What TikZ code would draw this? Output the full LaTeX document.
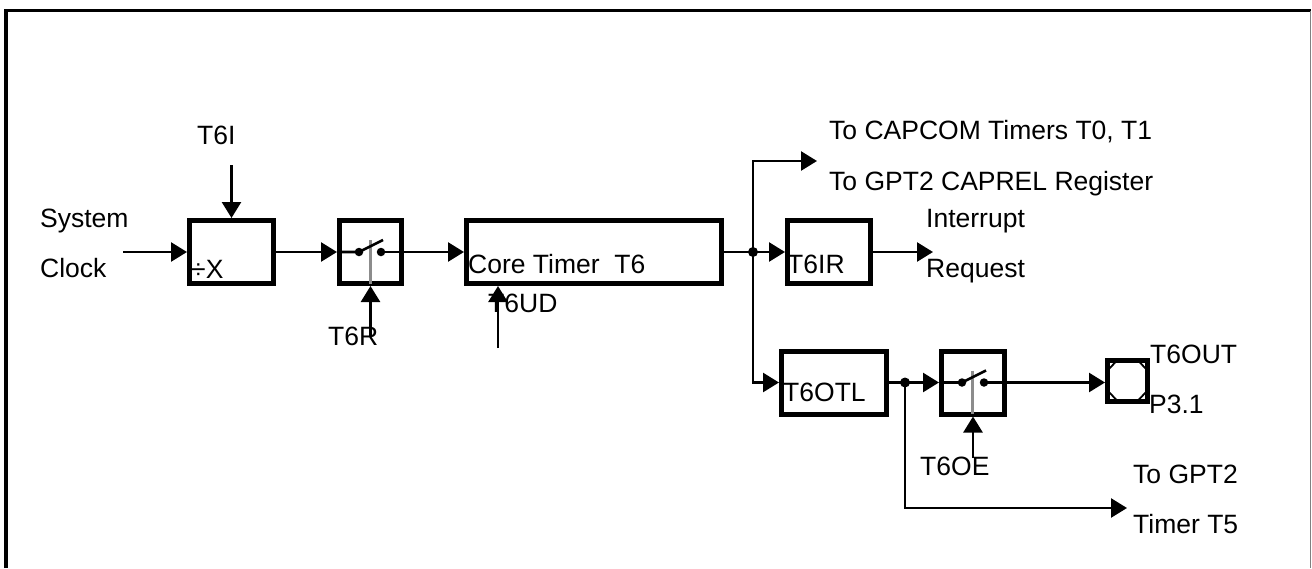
\documentclass[tikz,border=0pt]{standalone}
\usepackage{fontspec}
\setmainfont{Liberation Sans}
\usetikzlibrary{arrows.meta,calc}
\begin{document}
\begin{tikzpicture}[x=1pt,y=-1pt,
  box/.style={draw,line width=5pt,minimum height=63pt,inner sep=0pt},
  lbl/.style={anchor=base west,inner sep=0pt,font=\fontsize{26.5}{32}\selectfont},
  wire/.style={line width=2.6pt},
  arr/.style={line width=2.6pt,-{Triangle[length=16pt,width=19pt]}},
  dotn/.style={circle,fill,inner sep=0pt,minimum size=10pt},
  sdot/.style={circle,fill,inner sep=0pt,minimum size=8.5pt},
  lever/.style={line width=3pt,black!45}]
\useasboundingbox (0,0) rectangle (1312,568);
\draw[line width=3.5pt] (6,568) -- (6,10.5) -- (1311,10.5);
\draw[line width=1pt,black!50] (1310.5,10.5) -- (1310.5,568);

% blocks
\node[box,minimum width=84pt] (div) at (231.5,252) {};
\node[box,minimum width=62pt] (sw1) at (370.5,252) {};
\node[box,minimum width=255pt] (core) at (594,252) {};
\node[box,minimum width=83pt] (ir) at (829,252) {};
\node[box,minimum width=105pt] (otl) at (834,382.5) {};
\node[box,minimum width=63pt] (sw2) at (973,382.5) {};
\node[draw,line width=5pt,minimum width=40pt,minimum height=41pt,inner sep=0pt] (pin) at (1127.5,380.5) {};
\draw[line width=1.8pt] ($(pin.center)+(-20,-10)$) -- ($(pin.center)+(-10,-20.5)$) -- ($(pin.center)+(10,-20.5)$) -- ($(pin.center)+(20,-10)$) -- ($(pin.center)+(20,10)$) -- ($(pin.center)+(10,20.5)$) -- ($(pin.center)+(-10,20.5)$) -- ($(pin.center)+(-20,10)$) -- cycle;

% free ends
\coordinate (clk) at (123,252);
\coordinate (t6i) at (231.5,165);
\coordinate (t6r) at (370.5,337);
\coordinate (t6ud) at (498,348);
\coordinate (j1) at (753,252);
\coordinate (cap) at (817,161);
\coordinate (irq) at (933,252);
\coordinate (j2) at (905,382.5);
\coordinate (t5) at (1127,508);
\coordinate (t6oe) at (973,458);

% switch 1 internals
\coordinate (s1a) at ($(sw1.center)+(-11.5,0)$);
\coordinate (s1b) at ($(sw1.center)+(10.5,0)$);
\coordinate (s1c) at ($(sw1.center)+(12.5,-12)$);
\draw[lever] ($(sw1.center)+(0,-12)$) -- ($(sw1.south)+(0,-2.5)$);
\draw[wire] (sw1.west) -- (s1a) -- (s1c);
\draw[wire] (s1b) -- (sw1.east);
\node[sdot] (s1da) at (s1a) {};
\node[sdot] (s1db) at (s1b) {};

% switch 2 internals
\coordinate (s2a) at ($(sw2.center)+(-11,0)$);
\coordinate (s2b) at ($(sw2.center)+(11,0)$);
\coordinate (s2c) at ($(sw2.center)+(13,-12)$);
\draw[lever] ($(sw2.center)+(-1,-12)$) -- ($(sw2.south)+(-1,-2.5)$);
\draw[wire] (sw2.west) -- (s2a) -- (s2c);
\draw[wire] (s2b) -- (sw2.east);
\node[sdot] (s2da) at (s2a) {};
\node[sdot] (s2db) at (s2b) {};

% connectors
\draw[arr] (clk) -- (div.west);
\draw[arr] (t6i) -- (div.north);
\draw[arr] (div.east) -- (sw1.west);
\draw[arr] (sw1.east) -- (core.west);
\draw[arr] (t6r) -- (sw1.south);
\draw[arr] (t6ud) -- (t6ud |- core.south);
\draw[wire] (core.east) -- (j1);
\draw[arr] (j1) -- (ir.west);
\draw[arr] (j1) |- (cap);
\draw[arr] (j1) |- (otl.west);
\draw[arr] (ir.east) -- (irq);
\draw[wire] (otl.east) -- (j2);
\draw[arr] (j2) -- (sw2.west);
\draw[arr] (j2) |- (t5);
\draw[arr] (sw2.east) -- (pin.west |- sw2.east);
\draw[arr] (t6oe) -- (sw2.south);
\node[dotn] (d1) at (j1) {};
\node[dotn] (d2) at (j2) {};

% labels
\node[lbl] (lsys) at (40,227) {System};
\node[lbl] (lclk) at (40,277) {Clock};
\node[lbl] (ldiv) at (191,278) {÷X};
\node[lbl] (lt6i) at (197,144) {T6I};
\node[lbl] (lt6r) at (328,345) {T6R};
\node[lbl] (lcore) at (468,273) {Core Timer\ \ T6};
\node[lbl] (lt6ud) at (488,312) {T6UD};
\node[lbl] (lt6ir) at (787,273) {T6IR};
\node[lbl] (lcap) at (829,139) {To CAPCOM Timers T0, T1};
\node[lbl] (lcaprel) at (829,190) {To GPT2 CAPREL Register};
\node[lbl] (lint) at (926,227) {Interrupt};
\node[lbl] (lreq) at (926,277) {Request};
\node[lbl] (lotl) at (783,401) {T6OTL};
\node[lbl] (loe) at (920,475) {T6OE};
\node[lbl] (lout) at (1150,363) {T6OUT};
\node[lbl] (lp31) at (1149,413) {P3.1};
\node[lbl] (lgpt) at (1133,483) {To GPT2};
\node[lbl] (lt5) at (1133,533) {Timer T5};
\end{tikzpicture}
\end{document}
